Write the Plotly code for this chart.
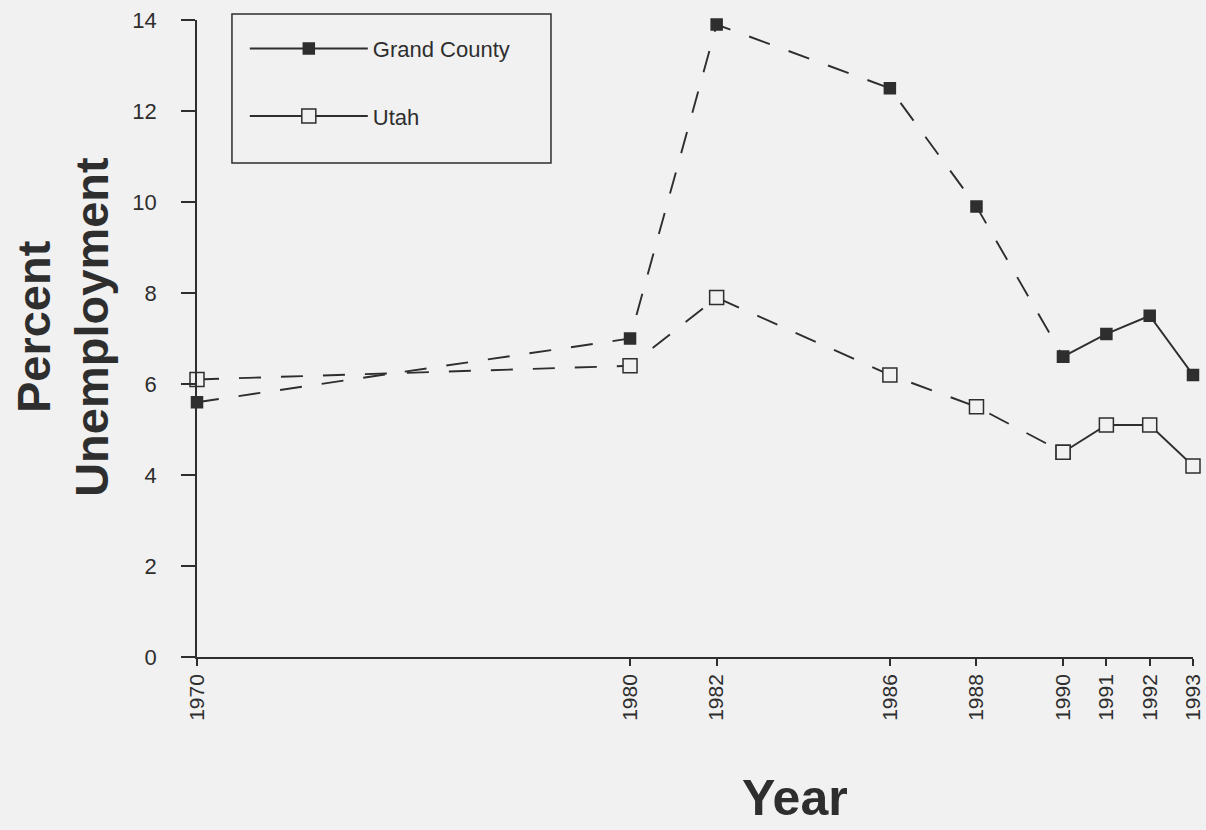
import plotly.graph_objects as go

years = [1970, 1980, 1982, 1986, 1988, 1990, 1991, 1992, 1993]
year_labels = ["1970", "1980", "1982", "1986", "1988", "1990", "1991", "1992", "1993"]
grand_county = [5.6, 7.0, 13.9, 12.5, 9.9, 6.6, 7.1, 7.5, 6.2]
utah = [6.1, 6.4, 7.9, 6.2, 5.5, 4.5, 5.1, 5.1, 4.2]
y_ticks = [0, 2, 4, 6, 8, 10, 12, 14]

split = years.index(1990)
INK = "#2e2e2e"
BG = "#f1f1f1"
FONT = "Liberation Sans, Arial, sans-serif"
DASH = "22px,20px"

fig = go.Figure()

def add_series(name, vals, symbol, size, fill, group):
    # dashed segment (1970-1990)
    fig.add_trace(go.Scatter(
        x=years[:split + 1], y=vals[:split + 1], mode="lines+markers",
        line=dict(color=INK, width=1.9, dash=DASH),
        marker=dict(symbol=symbol, size=size, color=fill, line=dict(color=INK, width=1.5)),
        showlegend=False, cliponaxis=False, legendgroup=group))
    # solid segment (1990-1993)
    fig.add_trace(go.Scatter(
        x=years[split:], y=vals[split:], mode="lines+markers", name=name,
        line=dict(color=INK, width=1.9),
        marker=dict(symbol=symbol, size=size, color=fill, line=dict(color=INK, width=1.5)),
        showlegend=True, cliponaxis=False, legendgroup=group))

add_series("Grand County", grand_county, "square", 11, INK, "g")
add_series("Utah", utah, "square", 14, BG, "u")

fig.update_layout(
    width=1206, height=830, autosize=False,
    margin=dict(l=197, r=13, t=20, b=173, autoexpand=False),
    paper_bgcolor=BG, plot_bgcolor=BG,
    font=dict(family=FONT, color=INK),
    showlegend=True,
    legend=dict(
        x=0.048, y=0.988, xanchor="left", yanchor="top",
        bgcolor="rgba(0,0,0,0)", borderwidth=0,
        font=dict(size=22, family=FONT, color=INK),
        itemwidth=118, tracegroupgap=36,
    ),
    shapes=[
        dict(type="rect", xref="paper", yref="paper",
             x0=0.0351, x1=0.3554, y0=0.7755, y1=1.0094,
             line=dict(color=INK, width=1.5), fillcolor="rgba(0,0,0,0)", layer="below"),
    ],
    xaxis=dict(
        range=[1970, 1993], tickmode="array", tickvals=years, ticktext=year_labels,
        tickangle=-90, ticks="outside", ticklen=7, tickwidth=1.5, tickcolor=INK,
        showline=True, linecolor=INK, linewidth=1.5, showgrid=False, zeroline=False,
        tickfont=dict(size=21, family=FONT, color=INK), automargin=False,
    ),
    yaxis=dict(
        range=[0, 14], tickmode="array", tickvals=y_ticks,
        ticks="outside", ticklen=14, tickwidth=1.5, tickcolor=INK,
        showline=True, linecolor=INK, linewidth=1.5, showgrid=False, zeroline=False,
        tickfont=dict(size=22, family=FONT, color=INK), ticklabelstandoff=20,
        automargin=False,
    ),
    annotations=[
        dict(text="<b>Percent</b>", xref="paper", yref="paper", x=-0.164, y=0.519,
             xanchor="center", yanchor="middle", textangle=-90, showarrow=False,
             font=dict(size=47, family=FONT, color=INK)),
        dict(text="<b>Unemployment</b>", xref="paper", yref="paper", x=-0.106, y=0.519,
             xanchor="center", yanchor="middle", textangle=-90, showarrow=False,
             font=dict(size=47, family=FONT, color=INK)),
        dict(text="<b>Year</b>", xref="paper", yref="paper", x=0.600, y=-0.222,
             xanchor="center", yanchor="middle", showarrow=False,
             font=dict(size=50, family=FONT, color=INK)),
    ],
)

fig.write_html("out.html", config={"displayModeBar": False},
               post_script="document.body.style.margin='0';document.body.style.overflow='hidden';")
